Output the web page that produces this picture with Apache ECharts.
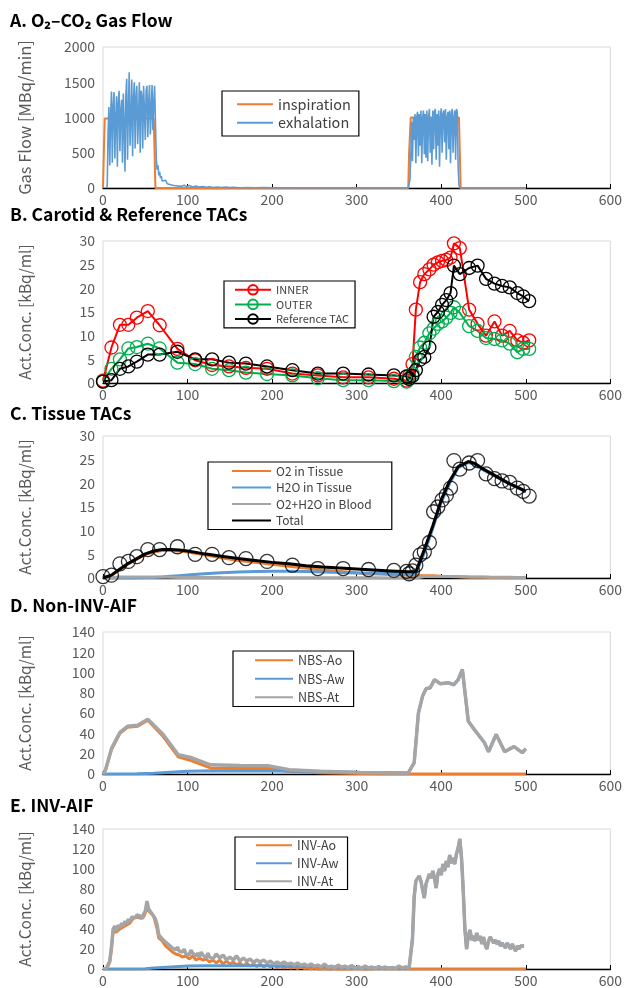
<!DOCTYPE html>
<html>
<head>
<meta charset="utf-8">
<script src="https://cdn.jsdelivr.net/npm/echarts@6/dist/echarts.min.js"></script>
<style>
html, body { margin: 0; padding: 0; background: #fff; }
#chart { width: 625px; height: 988px; }
</style>
</head>
<body>
<div id="chart"></div>
<script>
// ---- A. gas flow ----
const inspT = [0, 1, 2, 60, 61, 62, 361, 362, 364, 421, 422, 423, 500]
const inspV = [0, 0, 985, 990, 500, 0, 0, 500, 1000, 1000, 500, 0, 0]

const exhT = [
    4, 5, 6, 7, 8, 9, 10, 11, 12, 13,
    14, 15, 16, 17, 18, 19, 20, 21, 22, 23,
    24, 25, 26, 27, 28, 29, 30, 31, 32, 33,
    34, 35, 36, 37, 38, 39, 40, 41, 42, 43,
    44, 45, 46, 47, 48, 49, 50, 51, 52, 53,
    54, 55, 56, 57, 58, 59, 60, 61, 62, 63,
    64, 65, 66, 67, 68, 69, 70, 72, 74, 76,
    78, 80, 82, 84, 86, 88, 90, 93, 96, 99,
    102, 106, 110, 114, 118, 122, 126, 130, 135, 140,
    145, 150, 155, 160, 162, 164, 170, 180, 190, 200,
    220, 250, 361, 362, 363, 364, 365, 366, 367, 368,
    369, 370, 371, 372, 373, 374, 375, 376, 377, 378,
    379, 380, 381, 382, 383, 384, 385, 386, 387, 388,
    389, 390, 391, 392, 393, 394, 395, 396, 397, 398,
    399, 400, 401, 402, 403, 404, 405, 406, 407, 408,
    409, 410, 411, 412, 413, 414, 415, 416, 417, 418,
    419, 420, 421, 422, 500
]
const exhV = [
    0, 30, 800, 1150, 320, 1000, 1370, 360, 1150, 1360,
    420, 980, 1300, 300, 1200, 1380, 520, 1100, 1250, 360,
    1340, 900, 230, 1300, 1550, 400, 1100, 1640, 600, 1000,
    1540, 450, 1250, 1500, 560, 1300, 1450, 620, 1000, 1500,
    500, 1380, 1300, 560, 1450, 1100, 680, 1380, 1450, 720,
    1200, 1460, 760, 1100, 1460, 820, 1200, 1450, 1460, 420,
    260, 320, 180, 230, 140, 170, 100, 80, 110, 60,
    85, 45, 70, 35, 55, 30, 50, 25, 40, 20,
    35, 15, 28, 12, 22, 10, 18, 8, 15, 6,
    12, 5, 10, 4, 25, 4, 6, 3, 5, 2,
    2, 0, 0, 0, 120, 450, 940, 380, 1000, 680,
    1050, 350, 1000, 1080, 450, 1050, 600, 1100, 350, 1000,
    1100, 480, 1050, 430, 1100, 380, 1000, 1120, 500, 1000,
    330, 1100, 550, 1080, 1120, 400, 1050, 600, 1100, 300,
    1000, 1130, 500, 1050, 1100, 650, 1120, 400, 1000, 1080,
    550, 1100, 350, 1050, 1120, 500, 1000, 1100, 400, 1120,
    1080, 300, 40, 0, 0
]

// ---- B / C. frame times and TACs ----
const frameT = [
    0, 10, 20, 30, 40, 53, 67, 88, 109, 129,
    149, 169, 194, 224, 254, 284, 314, 344, 359, 362,
    366, 370, 375, 380, 386, 391, 396, 401, 406, 411,
    415, 422, 433, 443, 453, 463, 472, 481, 490, 497,
    504
]
const innerV = [
    0.5, 7.5, 12.3, 12.3, 13.8, 15.2, 12.2, 7.2, 4.8, 3.8,
    3.5, 3.2, 3.0, 2.0, 1.6, 1.2, 1.2, 0.9, 0.5, 1.5,
    4.0, 15.5, 21.3, 23.0, 24.0, 25.0, 25.5, 25.8, 26.0, 26.5,
    29.5, 28.5, 15.5, 12.5, 10.0, 13.0, 10.0, 11.0, 9.0, 8.5,
    9.0
]
const outerV = [
    0.3, 3.0, 5.0, 7.3, 7.6, 8.3, 7.3, 4.3, 4.0, 3.0,
    2.7, 2.2, 1.9, 1.6, 1.0, 0.6, 0.6, 0.4, 0.3, 0.8,
    2.0, 5.5, 7.5, 8.5, 10.5, 11.5, 12.5, 13.0, 13.8, 14.8,
    16.0, 14.8, 12.0, 11.0, 9.5, 9.3, 9.0, 8.3, 6.5, 7.2,
    7.2
]
const refV = [
    0.3, 0.6, 3.0, 3.5, 4.5, 6.0, 6.0, 6.6, 5.0, 5.0,
    4.3, 4.1, 3.5, 2.7, 2.0, 2.0, 1.8, 1.6, 1.4, 0.9,
    1.5, 2.7, 4.9, 5.5, 7.5, 14.0, 15.0, 16.5, 17.5, 19.0,
    24.8, 23.0, 24.3, 24.8, 22.0, 21.0, 20.5, 20.2, 19.0, 18.3,
    17.3
]

const modelT = [
    0, 10, 20, 30, 40, 50, 60, 70, 80, 90,
    100, 120, 140, 160, 180, 200, 220, 240, 260, 280,
    300, 320, 340, 360, 370, 380, 390, 400, 410, 420,
    432, 440, 450, 460, 470, 480, 490, 500
]
const o2TissueV = [
    0, 0.6, 1.8, 3.0, 4.0, 5.0, 5.5, 5.8, 5.8, 5.7,
    5.5, 4.9, 4.3, 3.7, 3.3, 2.9, 2.5, 2.1, 1.7, 1.4,
    1.1, 0.9, 0.75, 0.6, 0.55, 0.5, 0.45, 0.35, 0.3, 0.25,
    0.2, 0.17, 0.15, 0.12, 0.1, 0.07, 0.04, 0.02
]
const h2oTissueV = [
    0, 0, 0, 0.02, 0.05, 0.08, 0.12, 0.2, 0.35, 0.5,
    0.65, 0.9, 1.1, 1.25, 1.35, 1.4, 1.4, 1.35, 1.25, 1.15,
    1.05, 1.0, 0.95, 0.9, 0.95, 5.3, 10.5, 16.0, 20.0, 23.3,
    24.4, 24.0, 22.8, 21.9, 20.9, 19.9, 19.1, 18.2
]
const bloodV = [
    0, 0.1, 0.2, 0.2, 0.2, 0.2, 0.2, 0.2, 0.15, 0.1,
    0.1, 0.1, 0.08, 0.07, 0.06, 0.05, 0.05, 0.04, 0.04, 0.03,
    0.03, 0.03, 0.02, 0.02, 0.02, 0.3, 0.3, 0.3, 0.3, 0.3,
    0.2, 0.2, 0.2, 0.15, 0.15, 0.15, 0.1, 0.1
]
const totalV = [
    0, 0.6, 1.9, 3.1, 4.1, 5.1, 5.7, 6.0, 6.0, 5.9,
    5.7, 5.1, 4.6, 4.1, 3.7, 3.3, 3.0, 2.6, 2.3, 2.1,
    1.9, 1.7, 1.5, 1.3, 1.3, 6.0, 11.0, 16.5, 20.5, 23.5,
    24.6, 24.2, 23.0, 22.0, 21.0, 20.0, 19.2, 18.3
]

// ---- D. non-invasive AIF ----
const nbsT = [
    0, 3, 10, 20, 29, 41, 53, 70, 89, 105,
    127, 162, 195, 220, 257, 304, 351, 361, 368, 373,
    378, 382, 387, 392, 399, 408, 415, 420, 425, 432,
    439, 451, 456, 465, 475, 486, 496, 500
]
const nbsAtV = [
    0, 4, 25, 41, 47, 48, 54, 40, 19, 16,
    9, 8.5, 8.2, 4.3, 2.6, 1.6, 1, 1, 11, 60,
    77, 84, 85, 93, 89, 90, 88, 93, 103, 52,
    44, 31, 22, 39, 22, 27, 21, 25
]
const nbsAoT = [0, 3, 10, 20, 29, 41, 53, 70, 89, 105, 127, 162, 195, 220, 257, 304, 330, 360, 500]
const nbsAoV = [0, 4, 24, 40, 46, 47, 53, 38, 17, 13, 6, 5.5, 5.5, 2.5, 1.2, 0.4, 0, 0, 0]
const nbsAwT = [0, 40, 60, 80, 100, 130, 200, 250, 300, 350, 361]
const nbsAwV = [0, 0.2, 0.8, 1.8, 2.8, 3.2, 3, 2.5, 1.8, 1.2, 1]

// ---- E. invasive AIF ----
const invT = [
    0, 2, 4, 6, 8, 10, 12, 14, 16, 18,
    20, 22, 24, 26, 28, 30, 32, 34, 36, 38,
    40, 42, 44, 46, 48, 50, 52, 54, 56, 58,
    60, 62, 64, 66, 68, 70, 72, 74, 76, 78,
    80, 82, 84, 86, 88, 90, 92, 94, 96, 98,
    100, 102, 104, 106, 108, 110, 112, 114, 116, 118,
    120, 122, 124, 126, 128, 130, 134, 138, 142, 146,
    150, 154, 158, 162, 166, 170, 174, 178, 182, 186,
    190, 194, 198, 202, 206, 210, 214, 218, 222, 226,
    230, 234, 238, 242, 246, 250, 254, 258, 262, 266,
    270, 274, 278, 282, 286, 290, 294, 298, 302, 306,
    310, 314, 318, 322, 326, 330, 334, 338, 342, 346,
    350, 354, 358, 362, 364, 366, 368, 370, 372, 374,
    376, 378, 380, 382, 384, 386, 388, 390, 392, 394,
    396, 398, 400, 402, 404, 406, 408, 410, 412, 414,
    416, 418, 420, 422, 424, 426, 428, 430, 432, 434,
    436, 438, 440, 442, 444, 446, 448, 450, 452, 454,
    456, 458, 460, 462, 464, 466, 468, 470, 472, 474,
    476, 478, 480, 482, 484, 486, 488, 490, 492, 494,
    496, 498
]
const invAtV = [
    0, 0, 0.5, 2, 8, 22, 40, 43, 38, 44,
    41, 46, 43, 48, 45, 50, 47, 52, 53, 51,
    54, 52, 53, 50, 55, 58, 68, 60, 62, 55,
    56, 50, 44, 34, 35, 30, 32, 27, 28, 24,
    25, 21, 23, 19, 22, 18, 20, 17, 20, 15,
    17, 14, 19, 16, 18, 13, 16, 12, 17, 14,
    15, 11, 16, 12, 14, 10, 15, 11, 14, 9,
    12, 9, 13, 8, 11, 8, 10, 6.5, 9, 7,
    9, 6, 8, 5, 7, 5, 7, 4.5, 6, 4,
    6, 3.5, 5, 3, 5, 2.5, 4, 2, 5, 1.5,
    3, 1, 4, 1.5, 3, 1, 3.5, 1, 2.5, 0.5,
    3, 1, 2, 0.5, 2.5, 1, 2, 0.5, 1.5, 0.5,
    3, 1, 2, 1, 2, 30, 72, 88, 90, 93,
    88, 79, 71, 85, 90, 95, 91, 98, 91, 81,
    95, 100, 94, 105, 98, 108, 102, 114, 106, 111,
    105, 115, 121, 130, 111, 79, 40, 20, 33, 39,
    29, 33, 28, 36, 29, 33, 25, 32, 24, 20,
    28, 32, 29, 26, 29, 25, 28, 23, 26, 25,
    21, 26, 23, 20, 25, 21, 18, 23, 20, 23,
    21, 23
]
const invAoT = [
    0, 4, 6, 8, 10, 12, 16, 20, 24, 28,
    32, 36, 40, 44, 48, 50, 52, 54, 56, 60,
    64, 66, 70, 74, 78, 82, 86, 90, 94, 98,
    102, 106, 110, 114, 118, 122, 126, 130, 134, 138,
    142, 146, 150, 154, 158, 162, 166, 170, 174, 178,
    182, 186, 190, 194, 198, 202, 206, 210, 214, 218,
    222, 226, 230, 234, 238, 242, 246, 250, 256, 262,
    268, 274, 280, 286, 292, 300, 310, 320, 330, 340,
    350, 364, 500
]
const invAoV = [
    0, 0, 1.5, 7, 20, 38, 37, 40, 42, 44,
    46, 51, 52, 51, 52, 56, 62, 58, 58, 53,
    40, 31, 28, 23, 20, 17, 15, 14, 12, 13,
    10, 13, 9, 11, 9, 10, 7, 9, 6, 9,
    5, 8, 5, 7, 4, 6, 3, 6, 3, 5,
    2.5, 5, 2, 4, 2, 3.5, 1.5, 3, 1, 2.5,
    1, 2, 0.5, 2, 0.5, 1, 0, 1, -0.5, 0.5,
    -1, 0.5, -1, 0, -0.5, 0.5, -0.5, 0, 0.5, 0,
    0, 0, 0
]
const invAwT = [0, 40, 50, 60, 70, 80, 90, 100, 120, 150, 180, 200, 230, 250, 280, 300, 330, 350, 362]
const invAwV = [0, 0, 0.3, 1, 1.5, 2, 2.5, 3, 3.2, 3.3, 3.3, 3.2, 3, 2.5, 2, 1.5, 1.2, 1, 1]

const xTicks = [0, 100, 200, 300, 400, 500, 600]

// ---------------------------------------------------------------
const FONT = '"Noto Sans CJK JP", "Noto Sans", sans-serif'
const C_ORANGE = '#ED7D31'
const C_BLUE = '#5B9BD5'
const C_GREY = '#A5A5A5'

const pairs = (xs, ys) => xs.map((x, i) => [x, ys[i]])
// water curve: hidden under the total curve after the second inhalation
const tail = (xs, ys, from) => pairs(xs, ys).filter(p => p[0] >= from)

const mChart = echarts.init(document.getElementById('chart'))

const grids = [
    { left: 103, top: 47, width: 508, height: 141 },
    { left: 103, top: 241, width: 508, height: 142 },
    { left: 103, top: 436, width: 508, height: 142 },
    { left: 103, top: 632, width: 508, height: 142 },
    { left: 103, top: 829, width: 508, height: 143 }
].map(g => Object.assign(g, { show: true, borderColor: '#d9d9d9', borderWidth: 1 }))

const makeX = (i) => ({
    type: 'value', gridIndex: i, min: xTicks[0], max: xTicks[xTicks.length - 1], interval: 100,
    axisLine: { show: true, onZero: false, lineStyle: { color: '#000', width: 1.3 } },
    axisTick: { show: true, inside: true, length: 4, lineStyle: { color: '#000' } },
    axisLabel: { color: '#595959', fontSize: 14, margin: 5, fontFamily: FONT },
    splitLine: { show: false }
})
const makeY = (i, max, interval, name, nameSize) => ({
    type: 'value', gridIndex: i, min: 0, max: max, interval: interval,
    name: name, nameLocation: 'middle', nameGap: 70,
    nameTextStyle: { color: '#595959', fontSize: nameSize, fontFamily: FONT },
    axisLine: { show: false }, axisTick: { show: false }, splitLine: { show: false },
    axisLabel: { color: '#595959', fontSize: 14, margin: 8, fontFamily: FONT, formatter: v => String(v) }
})

const line = (name, i, data, color, width) => ({
    name, type: 'line', xAxisIndex: i, yAxisIndex: i, data,
    symbol: 'none', lineStyle: { color, width }, itemStyle: { color }
})
const circleLine = (name, i, data, color) => ({
    name, type: 'line', xAxisIndex: i, yAxisIndex: i, data,
    symbol: 'circle', symbolSize: 13,
    lineStyle: { color, width: 2 },
    itemStyle: { color: 'rgba(255,255,255,0)', borderColor: color, borderWidth: 1.3 }
})

const legendBase = {
    orient: 'vertical', selectedMode: false, backgroundColor: '#fff',
    borderColor: '#000', borderWidth: 1.2, itemGap: 4
}
// plain line icons: hide the marker drawn on top of the line
const noMarker = { itemStyle: { opacity: 0 } }

const titleStyle = { fontSize: 17.5, fontWeight: 'bold', color: '#000', fontFamily: FONT }

const option = {
    animation: false,
    backgroundColor: '#fff',
    title: [
        { text: 'A. O₂–CO₂ Gas Flow', left: 10, top: 12, padding: 0, textStyle: titleStyle },
        { text: 'B. Carotid & Reference TACs', left: 10, top: 206, padding: 0, textStyle: titleStyle },
        { text: 'C. Tissue TACs', left: 10, top: 405, padding: 0, textStyle: titleStyle },
        { text: 'D. Non-INV-AIF', left: 10, top: 597, padding: 0, textStyle: titleStyle },
        { text: 'E. INV-AIF', left: 10, top: 797, padding: 0, textStyle: titleStyle }
    ],
    grid: grids,
    xAxis: [0, 1, 2, 3, 4].map(makeX),
    yAxis: [
        makeY(0, 2000, 500, 'Gas Flow [MBq/min]', 16.5),
        makeY(1, 30, 5, 'Act.Conc. [kBq/ml]', 15.5),
        makeY(2, 30, 5, 'Act.Conc. [kBq/ml]', 15.5),
        makeY(3, 140, 20, 'Act.Conc. [kBq/ml]', 15.5),
        makeY(4, 140, 20, 'Act.Conc. [kBq/ml]', 15.5)
    ],
    legend: [
        Object.assign({}, legendBase, noMarker, {
            data: ['inspiration', 'exhalation'], left: 222, top: 91,
            itemWidth: 36, itemHeight: 14, itemGap: 4, padding: [6, 8, 6, 14],
            textStyle: { color: '#404040', fontFamily: FONT, fontSize: 14.5 }
        }),
        Object.assign({}, legendBase, {
            data: ['INNER', 'OUTER', 'Reference TAC'], left: 224, top: 281,
            itemWidth: 36, itemHeight: 12, itemGap: 3, padding: [3, 6, 3, 10],
            textStyle: { color: '#404040', fontFamily: FONT, fontSize: 11 }
        }),
        Object.assign({}, legendBase, noMarker, {
            data: ['O2 in Tissue', 'H2O in Tissue', 'O2+H2O in Blood', 'Total'], left: 208, top: 462,
            itemWidth: 39, itemHeight: 13, itemGap: 4.5, padding: [3, 20, 3, 23],
            textStyle: { color: '#404040', fontFamily: FONT, fontSize: 12 }
        }),
        Object.assign({}, legendBase, noMarker, {
            data: ['NBS-Ao', 'NBS-Aw', 'NBS-At'], left: 233, top: 651,
            itemWidth: 38, itemHeight: 14, itemGap: 6, padding: [3, 9, 3, 21],
            textStyle: { color: '#404040', fontFamily: FONT, fontSize: 12.5 }
        }),
        Object.assign({}, legendBase, noMarker, {
            data: ['INV-Ao', 'INV-Aw', 'INV-At'], left: 235, top: 837,
            itemWidth: 36, itemHeight: 14, itemGap: 5.5, padding: [2, 9, 2, 20],
            textStyle: { color: '#404040', fontFamily: FONT, fontSize: 12.5 }
        })
    ],
    series: [
        line('inspiration', 0, pairs(inspT, inspV), C_ORANGE, 2),
        line('exhalation', 0, pairs(exhT, exhV), C_BLUE, 1.6),

        circleLine('INNER', 1, pairs(frameT, innerV), '#FF0000'),
        circleLine('OUTER', 1, pairs(frameT, outerV), '#00B050'),
        circleLine('Reference TAC', 1, pairs(frameT, refV), '#000000'),

        line('O2 in Tissue', 2, pairs(modelT, o2TissueV), C_ORANGE, 3),
        line('H2O in Tissue', 2, pairs(modelT, h2oTissueV), C_BLUE, 3),
        line('O2+H2O in Blood', 2, pairs(modelT, bloodV), C_GREY, 3),
        line('Total', 2, pairs(modelT, totalV), '#000000', 3),
        {
            name: 'measured', type: 'scatter', xAxisIndex: 2, yAxisIndex: 2,
            data: pairs(frameT, refV), symbol: 'circle', symbolSize: 14, z: 5,
            itemStyle: { color: 'rgba(255,255,255,0)', borderColor: '#000', borderWidth: 1.3 }
        },

        line('NBS-Ao', 3, pairs(nbsAoT, nbsAoV), C_ORANGE, 3),
        line('NBS-Aw', 3, pairs(nbsAwT, nbsAwV).concat(tail(nbsT, nbsAtV, 368)), C_BLUE, 3),
        line('NBS-At', 3, pairs(nbsT, nbsAtV), C_GREY, 3.5),

        line('INV-Ao', 4, pairs(invAoT, invAoV), C_ORANGE, 3),
        line('INV-Aw', 4, pairs(invAwT, invAwV).concat(tail(invT, invAtV, 364)), C_BLUE, 3),
        line('INV-At', 4, pairs(invT, invAtV), C_GREY, 3.5)
    ]
}
mChart.setOption(option)
</script>
</body>
</html>
